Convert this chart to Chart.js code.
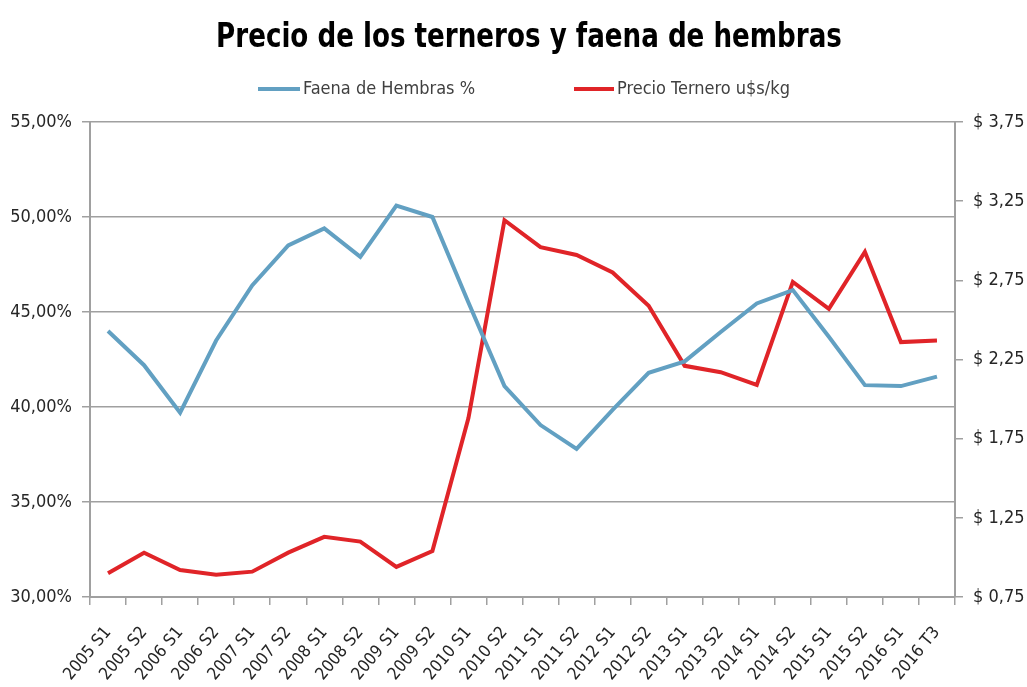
<!DOCTYPE html>
<html>
<head>
<meta charset="utf-8">
<script src="https://cdn.jsdelivr.net/npm/chart.js@4.4.1/dist/chart.umd.min.js"></script>
<style>
  html, body { margin: 0; padding: 0; background: #fff; }
  #wrap { width: 1027px; height: 687px; }
</style>
</head>
<body>
<div id="wrap"><canvas id="precioCanvas" width="1027" height="687"></canvas></div>
<script>
// categorias (semestres)
var periodos = ["2005 S1","2005 S2","2006 S1","2006 S2","2007 S1","2007 S2","2008 S1","2008 S2",
    "2009 S1","2009 S2","2010 S1","2010 S2","2011 S1","2011 S2","2012 S1","2012 S2",
    "2013 S1","2013 S2","2014 S1","2014 S2","2015 S1","2015 S2","2016 S1","2016 T3"];

// faena de hembras, en %
var faenaHembras = [44.0, 42.2, 39.7, 43.5, 46.4, 48.5, 49.4, 47.9, 50.6, 50.0, 45.5, 41.1,
    39.05, 37.8, 39.85, 41.8, 42.4, 43.95, 45.45, 46.15, 43.7, 41.15, 41.1, 41.6];

// precio ternero, u$s/kg
var precioTernero = [0.90, 1.03, 0.92, 0.89, 0.91, 1.03, 1.13, 1.10, 0.94, 1.04, 1.88, 3.13,
    2.96, 2.91, 2.80, 2.59, 2.21, 2.17, 2.09, 2.74, 2.57, 2.93, 2.36, 2.37];

// ticks de los ejes
var ticksIzq = { min: 30, max: 55, step: 5 };
var ticksDer = { min: 0.75, max: 3.75, step: 0.5 };

var titulo = 'Precio de los terneros y faena de hembras';

var fuente = "'Liberation Sans Narrow', 'DejaVu Sans Condensed', 'Liberation Sans', sans-serif";
var gris = "#a0a0a0";
var textoColor = "#262626";

function coma(n, dec){
    return n.toFixed(dec).replace(".", ",");
}

// titulo y leyenda dibujados a mano (el original es una letra muy angosta)
var encabezadoPlugin = {
    id: 'encabezado',
    afterDraw: function(chart){
        var ctx = chart.ctx;
        ctx.save();
        ctx.fillStyle = "#000";
        ctx.font = "bold 34px " + fuente;
        ctx.textAlign = "center";
        ctx.textBaseline = "alphabetic";
        ctx.translate(529, 47);
        ctx.scale(0.855, 1);
        ctx.fillText(titulo, 0, 0);
        ctx.restore();

        var pos = [{x: 258, w: 42}, {x: 574, w: 40}];
        ctx.save();
        ctx.font = "18px " + fuente;
        ctx.textBaseline = "middle";
        chart.data.datasets.forEach(function(ds, i){
            ctx.strokeStyle = ds.borderColor;
            ctx.lineWidth = 4;
            ctx.beginPath();
            ctx.moveTo(pos[i].x, 89);
            ctx.lineTo(pos[i].x + pos[i].w, 89);
            ctx.stroke();
            ctx.fillStyle = "#404040";
            ctx.fillText(ds.label, pos[i].x + pos[i].w + 3, 89);
        });
        ctx.restore();
    }
};

var config = {
    type: 'line',
    data: {
        labels: periodos,
        datasets: [{
            label: 'Faena de Hembras %',
            data: faenaHembras,
            borderColor: 'rgb(98, 160, 194)',
            borderWidth: 4,
            pointRadius: 0,
            tension: 0,
            yAxisID: 'yIzq'
        },{
            label: 'Precio Ternero u$s/kg',
            data: precioTernero,
            borderColor: 'rgb(224, 36, 40)',
            borderWidth: 4,
            pointRadius: 0,
            tension: 0,
            yAxisID: 'yDer'
        }]
    },
    options: {
        responsive: false,
        animation: false,
        layout: { padding: { left: 0, right: 0, top: 122, bottom: 0 } },
        plugins: {
            legend: { display: false },
            tooltip: { enabled: false },
            title: { display: false }
        },
        scales: {
            x: {
                offset: true,
                grid: { display: true, drawOnChartArea: false, drawTicks: true, tickLength: 8, color: gris, lineWidth: 1.5, offset: true },
                border: { display: true, color: gris, width: 2 },
                ticks: {
                    color: textoColor,
                    font: { family: fuente, size: 17 },
                    maxRotation: 50,
                    minRotation: 50,
                    autoSkip: false,
                    padding: 18
                },
                afterFit: function(scale){ scale.height = 90; }
            },
            yIzq: {
                position: 'left',
                min: ticksIzq.min,
                max: ticksIzq.max,
                grid: { color: gris, lineWidth: 1.5, tickLength: 8 },
                border: { display: true, color: gris, width: 2 },
                ticks: {
                    stepSize: ticksIzq.step,
                    color: textoColor,
                    font: { family: fuente, size: 18 },
                    padding: 10,
                    callback: function(v){ return coma(v, 2) + "%"; }
                },
                afterFit: function(scale){ scale.width = 90; }
            },
            yDer: {
                position: 'right',
                min: ticksDer.min,
                max: ticksDer.max,
                grid: { drawOnChartArea: false, color: gris, lineWidth: 1.5, tickLength: 8 },
                border: { display: true, color: gris, width: 2 },
                ticks: {
                    stepSize: ticksDer.step,
                    color: textoColor,
                    font: { family: fuente, size: 18 },
                    padding: 10,
                    callback: function(v){ return "$ " + coma(v, 2); }
                },
                afterFit: function(scale){ scale.width = 72; }
            }
        }
    },
    plugins: [encabezadoPlugin]
};

new Chart(document.getElementById('precioCanvas'), config);
</script>
</body>
</html>
